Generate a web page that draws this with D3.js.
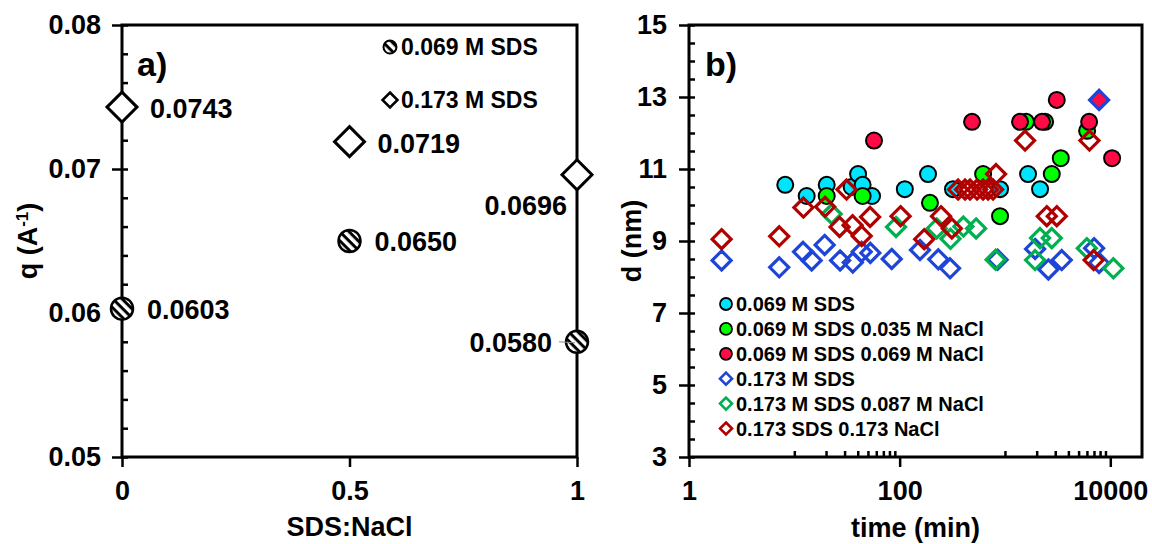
<!DOCTYPE html>
<html>
<head>
<meta charset="utf-8">
<title>q and d vs SDS:NaCl and time</title>
<script src="https://d3js.org/d3.v7.min.js"></script>
<style>
  body { margin: 0; background: #fff; }
  text { font-family: "Liberation Sans", Arial, sans-serif; font-weight: bold; fill: #000; }
</style>
</head>
<body>
<div id="chart"></div>
<script>
// ---- panel a data ----
var ratioTicks = [0, 0.5, 1];
var qTicks = [0.05, 0.06, 0.07, 0.08];
var sds069Ratio = [0, 0.5, 1];
var sds069Q = [0.0603, 0.0650, 0.0580];
var sds173Ratio = [0, 0.5, 1];
var sds173Q = [0.0743, 0.0719, 0.0696];
var legendA = ["0.069 M SDS", "0.173 M SDS"];

// ---- panel b data: [time (min), d (nm)] ----
var timeTicks = [1, 100, 10000];
var dTicks = [3, 5, 7, 9, 11, 13, 15];
var sds069 = [[8.2,10.56],[13.1,10.25],[20.3,10.56],[35,10.5],[40.3,10.86],[44.5,10.56],[54.7,10.25],
              [112,10.44],[186,10.86],[321,10.44],[898,10.44],[1656,10.86],[2153,10.44]];
var sds069Nacl035 = [[20.3,10.25],[44.5,10.25],[194,10.06],[620,10.86],[898,9.69],[1585,12.31],
                     [2405,12.31],[2782,10.86],[3388,11.30],[6023,12.06]];
var sds069Nacl069 = [[57.1,11.79],[487,12.31],[1390,12.31],[2250,12.31],[3104,12.92],[6295,12.31],[10400,11.30]];
var sds173 = [[2.04,8.46],[7.19,8.27],[12.1,8.70],[14.6,8.46],[19.4,8.89],[27.2,8.46],[35.9,8.40],
              [43.6,8.70],[52.7,8.67],[84.1,8.50],[156,8.75],[233,8.49],[301,8.24],[851,8.48],
              [1932,8.78],[2583,8.21],[3460,8.47],[7015,8.80],[7830,8.39]];
var sds173Filled = [[7830,12.92]];
var sds173Nacl087 = [[22.6,9.75],[92.4,9.39],[225,9.35],[304,9.06],[403,9.40],[532,9.35],[815,8.48],
                     [1932,8.47],[2153,9.08],[2782,9.08],[5984,8.80],[10700,8.24]];
var sds173Nacl173 = [[2.04,9.05],[7.19,9.13],[12.2,9.93],[19.6,9.95],[26.9,9.39],[31.3,10.43],[35.7,9.44],
                     [43.6,9.14],[52.4,9.67],[102,9.69],[171,9.05],[247,9.69],[313,9.35],[359,10.43],
                     [418,10.43],[466,10.43],[544,10.43],[620,10.43],[691,10.43],[771,10.43],[823,10.86],
                     [1552,11.79],[2495,9.69],[3104,9.69],[6340,11.79],[6950,8.47]];
var seriesNames = ["0.069 M SDS", "0.069 M SDS 0.035 M NaCl", "0.069 M SDS 0.069 M NaCl",
                   "0.173 M SDS", "0.173 M SDS 0.087 M NaCl", "0.173 SDS 0.173 NaCl"];
var seriesColors = ["#00e5ff", "#00ff00", "#ff0a45", "#1f45d8", "#00b050", "#b00000"];

function diamondPath(s) {
    return "M0," + (-s) + "L" + s + ",0L0," + s + "L" + (-s) + ",0Z";
}

function createCanvas() {
    var svg = d3.select("#chart").append("svg")
        .attr("width", 1152)
        .attr("height", 544);
    var pat = svg.append("defs").append("pattern")
        .attr("id", "hatch")
        .attr("patternUnits", "userSpaceOnUse")
        .attr("width", 6.5).attr("height", 6.5)
        .attr("patternTransform", "rotate(45)");
    pat.append("rect").attr("width", 6.5).attr("height", 6.5).attr("fill", "#fff");
    pat.append("rect").attr("width", 6.5).attr("height", 3).attr("fill", "#000");
    return svg;
}

function styleAxis(g) {
    g.select(".domain").remove();
    g.selectAll("line").attr("stroke", "#000").attr("stroke-width", 2.5);
    g.selectAll("text")
        .attr("font-family", "Liberation Sans, Arial, sans-serif")
        .attr("font-weight", "bold")
        .attr("font-size", 27)
        .attr("fill", "#000");
}

function drawPanelA(svg) {
    var left = 122, right = 577, top = 25, bottom = 457;
    var x = d3.scaleLinear().domain([0, 1]).range([left, right]);
    var y = d3.scaleLinear().domain([0.05, 0.08]).range([bottom, top]);

    // minor ticks point inwards
    svg.append("g").attr("transform", "translate(" + left + ",0)")
        .call(d3.axisLeft(y).tickValues(d3.range(0.05, 0.0801, 0.002)).tickSize(-6).tickFormat(""))
        .call(styleAxis);
    svg.append("g").attr("transform", "translate(" + left + ",0)")
        .call(d3.axisLeft(y).tickValues(qTicks).tickSize(10).tickPadding(11).tickFormat(d3.format(".2f")))
        .call(styleAxis);
    svg.append("g").attr("transform", "translate(0," + bottom + ")")
        .call(d3.axisBottom(x).tickValues(ratioTicks).tickSize(10).tickPadding(14).tickFormat(d3.format("")))
        .call(styleAxis);

    svg.append("rect")
        .attr("x", left).attr("y", top)
        .attr("width", right - left).attr("height", bottom - top)
        .attr("fill", "none").attr("stroke", "#000").attr("stroke-width", 3);

    var fmt = d3.format(".4f");

    // 0.069 M SDS hatched circles
    var circ = svg.selectAll(".a069").data(sds069Q).enter().append("g").attr("class", "a069");
    circ.append("circle")
        .attr("cx", function(d, i) { return x(sds069Ratio[i]); })
        .attr("cy", function(d) { return y(d); })
        .attr("r", 11)
        .attr("fill", "url(#hatch)")
        .attr("stroke", "#000").attr("stroke-width", 2.5);
    circ.filter(function(d, i) { return sds069Ratio[i] === 1; }).append("line")
        .attr("x1", x(1) - 18)
        .attr("x2", x(1) - 2)
        .attr("y1", function(d) { return y(d); })
        .attr("y2", function(d) { return y(d) + 1; })
        .attr("stroke", "#888").attr("stroke-width", 1);
    circ.append("text")
        .attr("x", function(d, i) { return sds069Ratio[i] === 1 ? x(1) - 25 : x(sds069Ratio[i]) + 25; })
        .attr("y", function(d) { return y(d) + 10; })
        .attr("text-anchor", function(d, i) { return sds069Ratio[i] === 1 ? "end" : "start"; })
        .attr("font-size", 27)
        .text(function(d) { return fmt(d); });

    // 0.173 M SDS diamonds
    var dia = svg.selectAll(".a173").data(sds173Q).enter().append("g").attr("class", "a173");
    dia.append("path")
        .attr("transform", function(d, i) { return "translate(" + x(sds173Ratio[i]) + "," + y(d) + ")"; })
        .attr("d", diamondPath(15))
        .attr("fill", "#fff")
        .attr("stroke", "#000").attr("stroke-width", 3);
    dia.append("text")
        .attr("x", function(d, i) { return sds173Ratio[i] === 1 ? x(1) - 10 : x(sds173Ratio[i]) + 28; })
        .attr("y", function(d, i) { return sds173Ratio[i] === 1 ? y(d) + 40 : y(d) + 11; })
        .attr("text-anchor", function(d, i) { return sds173Ratio[i] === 1 ? "end" : "start"; })
        .attr("font-size", 27)
        .text(function(d) { return fmt(d); });

    // legend
    var lg = svg.append("g").attr("transform", "translate(" + (left + 268) + "," + (top + 22) + ")");
    lg.append("circle").attr("r", 6.5).attr("fill", "url(#hatch)").attr("stroke", "#000").attr("stroke-width", 2);
    lg.append("path").attr("transform", "translate(0,53)").attr("d", diamondPath(7.5))
        .attr("fill", "#fff").attr("stroke", "#000").attr("stroke-width", 2.5);
    lg.selectAll("text").data(legendA).enter().append("text")
        .attr("x", 11).attr("y", function(d, i) { return i * 53 + 8; })
        .attr("font-size", 23)
        .text(function(d) { return d; });

    svg.append("text").attr("x", left + 15).attr("y", 76).attr("font-size", 34).text("a)");

    var yl = svg.append("text")
        .attr("transform", "translate(37," + ((top + bottom) / 2) + ") rotate(-90)")
        .attr("text-anchor", "middle").attr("font-size", 27);
    yl.append("tspan").text("q (A");
    yl.append("tspan").attr("baseline-shift", "super").attr("font-size", 17).text("-1");
    yl.append("tspan").text(")");

    svg.append("text").attr("x", (left + right) / 2).attr("y", 536)
        .attr("text-anchor", "middle").attr("font-size", 27).text("SDS:NaCl");
}

function drawPanelB(svg) {
    var left = 689, right = 1142, top = 25, bottom = 457;
    var x = d3.scaleLog().domain([1, 20000]).range([left, right]);
    var y = d3.scaleLinear().domain([3, 15]).range([bottom, top]);

    svg.append("g").attr("transform", "translate(" + left + ",0)")
        .call(d3.axisLeft(y).tickValues(d3.range(3, 15.01, 0.5)).tickSize(-6).tickFormat(""))
        .call(styleAxis);
    svg.append("g").attr("transform", "translate(" + left + ",0)")
        .call(d3.axisLeft(y).tickValues(dTicks).tickSize(10).tickPadding(12).tickFormat(d3.format("d")))
        .call(styleAxis);
    var minorT = d3.range(10, 91, 10).concat(d3.range(1000, 9001, 1000));
    svg.append("g").attr("transform", "translate(0," + bottom + ")")
        .call(d3.axisBottom(x).tickValues(minorT).tickSize(-6).tickFormat(""))
        .call(styleAxis);
    svg.append("g").attr("transform", "translate(0," + bottom + ")")
        .call(d3.axisBottom(x).tickValues(timeTicks).tickSize(10).tickPadding(14).tickFormat(d3.format("d")))
        .call(styleAxis);

    svg.append("rect")
        .attr("x", left).attr("y", top)
        .attr("width", right - left).attr("height", bottom - top)
        .attr("fill", "none").attr("stroke", "#000").attr("stroke-width", 3);

    var circleSets = [sds069, sds069Nacl035, sds069Nacl069];
    circleSets.forEach(function(set, k) {
        svg.append("g").selectAll("circle").data(set).enter().append("circle")
            .attr("cx", function(d) { return x(d[0]); })
            .attr("cy", function(d) { return y(d[1]); })
            .attr("r", 8)
            .attr("fill", seriesColors[k])
            .attr("stroke", "#000").attr("stroke-width", 2);
    });

    var diamondSets = [sds173, sds173Nacl087, sds173Nacl173];
    diamondSets.forEach(function(set, k) {
        var g = svg.append("g");
        g.selectAll("path").data(set).enter().append("path")
            .attr("transform", function(d) { return "translate(" + x(d[0]) + "," + y(d[1]) + ")"; })
            .attr("d", diamondPath(9.5))
            .attr("fill", "none")
            .attr("stroke", seriesColors[k + 3]).attr("stroke-width", 3.2);
        if (k === 0) {
            g.selectAll(".filled").data(sds173Filled).enter().append("path")
                .attr("class", "filled")
                .attr("transform", function(d) { return "translate(" + x(d[0]) + "," + y(d[1]) + ")"; })
                .attr("d", diamondPath(9.5))
                .attr("fill", seriesColors[2])
                .attr("stroke", seriesColors[3]).attr("stroke-width", 3.2);
        }
    });

    // legend
    var lg = svg.append("g").attr("transform", "translate(726,304)");
    var rows = lg.selectAll("g").data(seriesNames).enter().append("g")
        .attr("transform", function(d, i) { return "translate(0," + (i * 24.9) + ")"; });
    rows.filter(function(d, i) { return i < 3; }).append("circle")
        .attr("r", 6).attr("fill", function(d, i) { return seriesColors[i]; })
        .attr("stroke", "#000").attr("stroke-width", 1.8);
    rows.filter(function(d, i) { return i >= 3; }).append("path")
        .attr("d", diamondPath(6))
        .attr("fill", "none")
        .attr("stroke", function(d, i) { return seriesColors[i + 3]; }).attr("stroke-width", 2.6);
    rows.append("text").attr("x", 10).attr("y", 7).attr("font-size", 20).text(function(d) { return d; });

    svg.append("text").attr("x", left + 16).attr("y", 76).attr("font-size", 34).text("b)");

    svg.append("text")
        .attr("transform", "translate(641," + ((top + bottom) / 2) + ") rotate(-90)")
        .attr("text-anchor", "middle").attr("font-size", 27).text("d (nm)");

    svg.append("text").attr("x", (left + right) / 2).attr("y", 537)
        .attr("text-anchor", "middle").attr("font-size", 27).text("time (min)");
}

var canvas = createCanvas();
drawPanelA(canvas);
drawPanelB(canvas);
</script>
</body>
</html>
